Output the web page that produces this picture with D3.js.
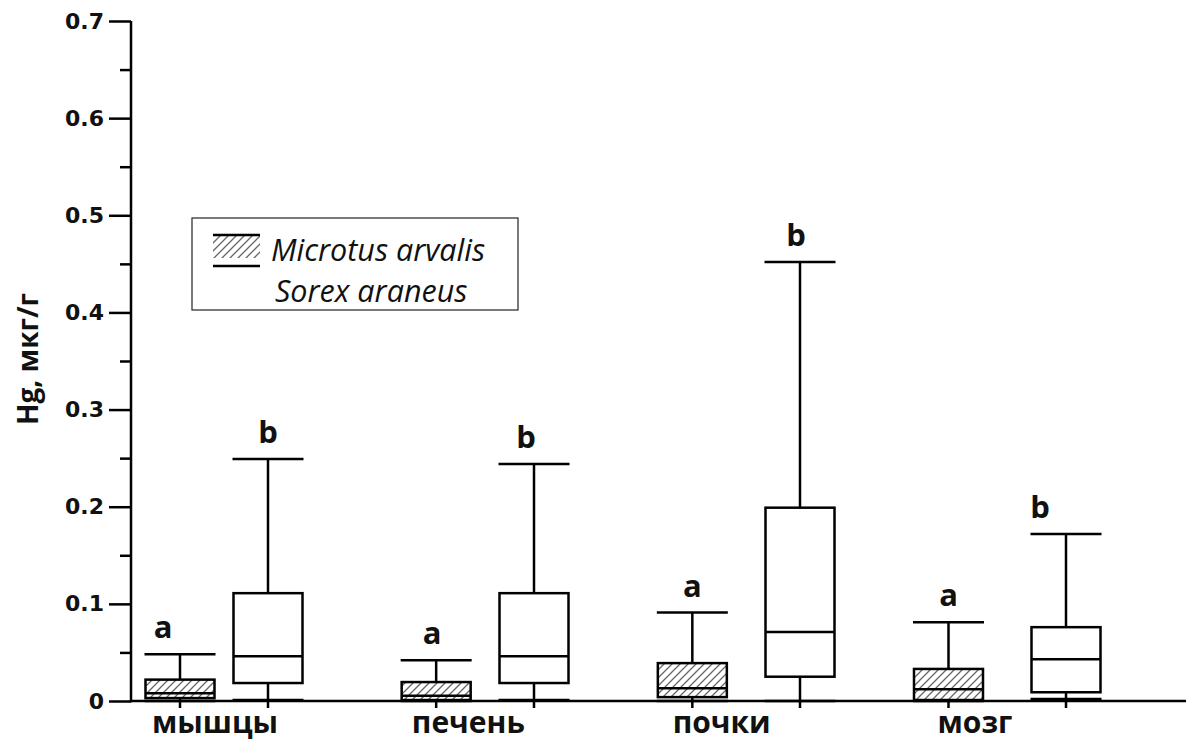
<!DOCTYPE html>
<html><head><meta charset="utf-8">
<script src="https://cdn.jsdelivr.net/npm/d3@7"></script>
<style>body{margin:0;background:#fff}</style>
</head><body>
<svg id="chart" width="1203" height="751"></svg>
<script>
const categories = ["мышцы", "печень", "почки", "мозг"];
const seriesNames = ["Microtus arvalis", "Sorex araneus"];
// [min, q1, median, q3, max]
const microtus = [
  [0.000, 0.003, 0.008, 0.022, 0.048],
  [0.000, 0.001, 0.0055, 0.0195, 0.042],
  [0.000, 0.004, 0.013, 0.039, 0.091],
  [0.000, 0.001, 0.012, 0.033, 0.081]
];
const sorex = [
  [0.001, 0.0185, 0.046, 0.111, 0.249],
  [0.001, 0.0185, 0.046, 0.111, 0.244],
  [0.000, 0.025, 0.071, 0.199, 0.452],
  [0.002, 0.009, 0.043, 0.076, 0.172]
];
const microtusLetters = ["a", "a", "a", "a"];
const sorexLetters = ["b", "b", "b", "b"];
const yTicks = [0, 0.1, 0.2, 0.3, 0.4, 0.5, 0.6, 0.7];
const yMinorTicks = [0.05, 0.15, 0.25, 0.35, 0.45, 0.55, 0.65];

const svg = d3.select("#chart");
const axisX = 131, axisRight = 1186;
const y = d3.scaleLinear().domain([0, 0.7]).range([701, 21]);
const xLabel = d3.scalePoint().domain(categories).range([215, 975]);
const xM = d3.scalePoint().domain(categories).range([180, 948.5]);
const xS = d3.scalePoint().domain(categories).range([268, 1066]);
const boxW = 69;
// letter horizontal nudges (layout)
const dxM = [-17, -4, 0, 0], dxS = [0, -8, -4, -26];

const defs = svg.append("defs");
const pat = defs.append("pattern").attr("id", "hatch")
  .attr("patternUnits", "userSpaceOnUse").attr("width", 8).attr("height", 8);
pat.append("path").attr("d", "M-2,2 L2,-2 M0,8 L8,0 M6,10 L10,6")
  .attr("stroke", "#666").attr("stroke-width", 1.3);

// y axis
const yAxis = d3.axisLeft(y).tickValues(yTicks).tickSize(22).tickPadding(5)
  .tickFormat(d => d === 0 ? "0" : d3.format(".1f")(d));
const gy = svg.append("g").attr("transform", `translate(${axisX},0)`).call(yAxis);
gy.attr("font-size", null).attr("font-family", null);
gy.select(".domain").remove();
gy.selectAll(".tick line").attr("stroke", "#000").attr("stroke-width", 2.5);
gy.selectAll(".tick text")
  .style("font-family", "'DejaVu Sans', Verdana, sans-serif")
  .style("font-weight", "bold").style("font-size", "22px").attr("fill", "#111");
const gyMinor = svg.append("g").attr("transform", `translate(${axisX},0)`)
  .call(d3.axisLeft(y).tickValues(yMinorTicks).tickSize(11).tickFormat(""));
gyMinor.select(".domain").remove();
gyMinor.selectAll(".tick line").attr("stroke", "#000").attr("stroke-width", 2.5);
svg.append("line").attr("x1", axisX).attr("x2", axisX).attr("y1", y(0.7)).attr("y2", y(0) + 1.2)
  .attr("stroke", "#000").attr("stroke-width", 2.5);

// x axis
svg.append("line").attr("x1", axisX).attr("x2", axisRight).attr("y1", y(0)).attr("y2", y(0))
  .attr("stroke", "#000").attr("stroke-width", 2.5);
const boxCenters = categories.flatMap(c => [xM(c), xS(c)]);
svg.append("g").selectAll("line").data(boxCenters).join("line")
  .attr("x1", d => d).attr("x2", d => d).attr("y1", y(0)).attr("y2", y(0) + 7)
  .attr("stroke", "#000").attr("stroke-width", 2.5);
svg.append("g").selectAll("text").data(categories).join("text")
  .attr("x", d => xLabel(d)).attr("y", 733).attr("text-anchor", "middle")
  .attr("font-family", "Open Sans, sans-serif").attr("font-weight", "bold")
  .attr("font-size", 30).attr("fill", "#111").text(d => d);

// y title
svg.append("text").attr("transform", "translate(38,359) rotate(-90)")
  .attr("text-anchor", "middle").attr("font-family", "Open Sans, sans-serif")
  .attr("font-weight", "bold").attr("font-size", 28).attr("fill", "#111").text("Hg, мкг/г");

function drawBoxes(data, xs, fill, letters, dx) {
  const g = svg.append("g");
  data.forEach((d, i) => {
    const cx = xs(categories[i]);
    const [mn, q1, med, q3, mx] = d;
    const gg = g.append("g").attr("stroke", "#000").attr("stroke-width", 2.5).attr("fill", "none");
    gg.append("line").attr("x1", cx).attr("x2", cx).attr("y1", y(q3)).attr("y2", y(mx));
    gg.append("line").attr("x1", cx).attr("x2", cx).attr("y1", y(q1)).attr("y2", y(mn));
    gg.append("line").attr("x1", cx - boxW / 2 - 1).attr("x2", cx + boxW / 2 + 1).attr("y1", y(mx)).attr("y2", y(mx));
    gg.append("line").attr("x1", cx - boxW / 2 - 1).attr("x2", cx + boxW / 2 + 1).attr("y1", y(mn)).attr("y2", y(mn));
    gg.append("rect").attr("x", cx - boxW / 2).attr("width", boxW)
      .attr("y", y(q3)).attr("height", y(q1) - y(q3)).attr("fill", fill);
    gg.append("line").attr("x1", cx - boxW / 2).attr("x2", cx + boxW / 2).attr("y1", y(med)).attr("y2", y(med));
    g.append("text").attr("x", cx + dx[i]).attr("y", y(mx) - 16)
      .attr("text-anchor", "middle").attr("font-family", "Open Sans, sans-serif")
      .attr("font-weight", "bold").attr("font-size", 31).attr("fill", "#111").text(letters[i]);
  });
}
drawBoxes(microtus, xM, "url(#hatch)", microtusLetters, dxM);
drawBoxes(sorex, xS, "#fff", sorexLetters, dxS);

// legend
const lg = svg.append("g");
lg.append("rect").attr("x", 192).attr("y", 218).attr("width", 326).attr("height", 92)
  .attr("fill", "#fff").attr("stroke", "#333").attr("stroke-width", 1.3);
lg.append("rect").attr("x", 213).attr("y", 236).attr("width", 47).attr("height", 22).attr("fill", "url(#hatch)");
lg.append("line").attr("x1", 213).attr("x2", 260).attr("y1", 235).attr("y2", 235).attr("stroke", "#000").attr("stroke-width", 2.5);
lg.append("line").attr("x1", 213).attr("x2", 260).attr("y1", 266).attr("y2", 266).attr("stroke", "#000").attr("stroke-width", 2.5);
lg.selectAll("text.lt").data(seriesNames).join("text").attr("class", "lt")
  .attr("x", (d, i) => i === 0 ? 271 : 275).attr("y", (d, i) => i === 0 ? 261 : 302)
  .attr("font-family", "Open Sans, sans-serif").attr("font-style", "italic")
  .attr("font-size", 30.5).attr("fill", "#111").text(d => d);
</script>
</body></html>
